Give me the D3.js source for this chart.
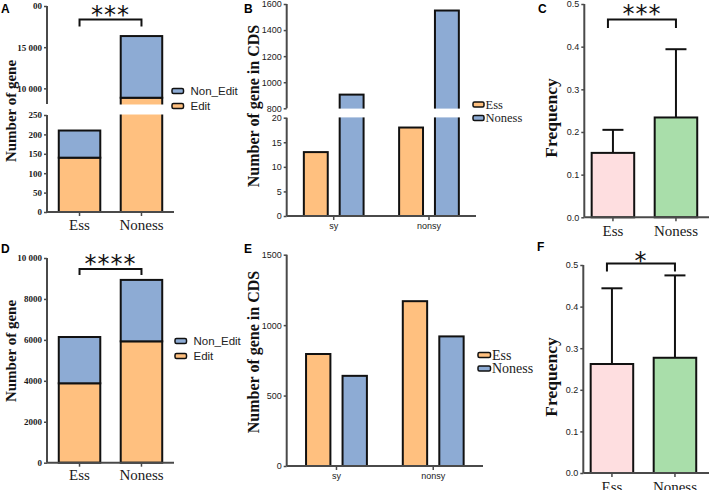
<!DOCTYPE html>
<html><head><meta charset="utf-8">
<script src="https://cdn.jsdelivr.net/npm/d3@7"></script>
<style>body{margin:0;background:#fff} svg{display:block}</style>
</head><body><svg id="c" width="709" height="490"></svg>
<script>
// ---------------- data ----------------
const groups = ["Ess", "Noness"];
const stackKeys = ["Edit", "Non_Edit"];
const editA = [140, 8860];
const nonEditA = [70, 7490];
const editD = [3880, 5930];
const nonEditD = [2260, 3000];
const mutTypes = ["sy", "nonsy"];
const essB = [13, 18];
const nonessB = [905, 1550];
const essE = [795, 1170];
const nonessE = [640, 920];
const freqC = [0.151, 0.234];
const errC = [0.054, 0.160];
const freqF = [0.262, 0.277];
const errF = [0.182, 0.198];
const ticksAlow = [0, 50, 100, 150, 200, 250];
const ticksAhigh = [10000, 15000, 20000];
const tickLabelsAhigh = ["10 000", "15 000", "00"];
const ticksD = [0, 2000, 4000, 6000, 8000, 10000];
const tickLabelsD = ["0", "2000", "4000", "6000", "8000", "10 000"];
const ticksBlow = [0, 5, 10, 15, 20];
const ticksBhigh = [800, 1000, 1200, 1400, 1600];
const ticksE = [0, 500, 1000, 1500];
const ticksFreq = [0, 0.1, 0.2, 0.3, 0.4, 0.5];
const sigA = "***", sigC = "***", sigD = "****", sigF = "*";

// ---------------- style ----------------
const C_OR = "#FFC07F", C_BL = "#8DABD4", C_PK = "#FEDEE0", C_GR = "#A9DEAA";
const AX = "#4a4a4a";
const serif = "'Liberation Serif','Times New Roman',serif";
const sans = "'Liberation Sans',Arial,sans-serif";
const svg = d3.select("#c");

function axisLine(x1, y1, x2, y2) {
  svg.append("line").attr("x1", x1).attr("y1", y1).attr("x2", x2).attr("y2", y2)
    .attr("stroke", AX).attr("stroke-width", 2);
}
function styleAxis(g, font, size, weight) {
  g.select(".domain").remove();
  g.selectAll(".tick line").attr("stroke", AX).attr("stroke-width", 1.5);
  g.selectAll(".tick text").attr("fill", "#1a1a1a").style("font-family", font)
    .style("font-size", size + "px").style("font-weight", weight);
}
function yAxis(x, scale, vals, labels, font, size, weight) {
  const ax = d3.axisLeft(scale).tickValues(vals).tickSize(3).tickPadding(2);
  ax.tickFormat(labels ? (d, i) => labels[i] : d => String(d));
  const g = svg.append("g").attr("transform", `translate(${x},0)`).call(ax);
  styleAxis(g, font, size, weight);
}
function xAxis(y, scale, font, size, weight, pad) {
  const g = svg.append("g").attr("transform", `translate(0,${y})`)
    .call(d3.axisBottom(scale).tickSize(4).tickPadding(pad));
  styleAxis(g, font, size, weight);
}
function title(x, y, txt, size) {
  svg.append("text").attr("transform", `translate(${x},${y}) rotate(-90)`)
    .attr("text-anchor", "middle").attr("dominant-baseline", "central")
    .style("font-family", serif).style("font-weight", "bold").style("font-size", size + "px")
    .attr("fill", "#111").text(txt);
}
function panelLabel(x, y, t) {
  svg.append("text").attr("x", x).attr("y", y).text(t)
    .style("font-family", sans).style("font-weight", "bold").style("font-size", "12px").attr("fill", "#000");
}
function bracket(x1, x2, y, drop, stars, starY) {
  svg.append("path").attr("d", `M${x1},${y + drop}V${y}H${x2}V${y + drop}`)
    .attr("fill", "none").attr("stroke", "#111").attr("stroke-width", 2);
  svg.append("text").attr("x", (x1 + x2) / 2).attr("y", starY).attr("text-anchor", "middle")
    .style("font-family", "'DejaVu Sans',sans-serif").style("font-size", "24px")
    .style("letter-spacing", "1px").attr("fill", "#111").text(stars);
}
function legend(x, y0, dy, items, font, size, bw, bh, tx) {
  items.forEach((it, i) => {
    const y = y0 + i * dy;
    svg.append("rect").attr("x", x).attr("y", y - bh / 2).attr("width", bw).attr("height", bh)
      .attr("rx", 1.5).attr("fill", it.c).attr("stroke", "#111").attr("stroke-width", 1.5);
    svg.append("text").attr("x", x + bw + tx).attr("y", y).attr("dominant-baseline", "central")
      .style("font-family", font).style("font-size", size + "px").attr("fill", "#222").text(it.t);
  });
}
function barRect(x, y0, y1, w, fill) {
  svg.append("rect").attr("x", x).attr("y", Math.min(y0, y1)).attr("width", w)
    .attr("height", Math.abs(y0 - y1)).attr("fill", fill).attr("stroke", "#111").attr("stroke-width", 2);
}

// ---------------- stacked panels (A, D) ----------------
function stackedPanel(cfg) {
  const rows = groups.map((g, i) => ({ g, Edit: cfg.edit[i], Non_Edit: cfg.nonEdit[i] }));
  const series = d3.stack().keys(stackKeys)(rows);
  const x = d3.scaleBand().domain(groups).range([cfg.x0, cfg.x1]).paddingInner(0.33).paddingOuter(0.19);
  const colors = { Edit: C_OR, Non_Edit: C_BL };
  series.forEach(s => s.forEach(d => barRect(x(d.data.g), cfg.y(d[0]), cfg.y(d[1]), x.bandwidth(), colors[s.key])));
  if (cfg.gap) svg.append("rect").attr("x", cfg.x0 + 2).attr("y", cfg.gap[0]).attr("width", cfg.x1 - cfg.x0)
    .attr("height", cfg.gap[1] - cfg.gap[0]).attr("fill", "#fff");
  cfg.axes();
  axisLine(cfg.x0, cfg.y(0), cfg.x1, cfg.y(0));
  xAxis(cfg.y(0), x, serif, 15, "normal", 3);
  const c0 = x("Ess") + x.bandwidth() / 2, c1 = x("Noness") + x.bandwidth() / 2;
  bracket(c0, c1, cfg.br, cfg.drop, cfg.sig, cfg.starY);
  legend(cfg.lx, cfg.ly, 15, [{ t: "Non_Edit", c: C_BL }, { t: "Edit", c: C_OR }], sans, 11.5, 11.5, 5, 7);
}

// A
const yA = d3.scaleLinear().domain([0, 250, 8100, 20000]).range([212, 115, 104, 6]);
stackedPanel({
  edit: editA, nonEdit: nonEditA, x0: 47, x1: 174, y: yA, gap: [104.5, 114.5],
  axes: () => {
    axisLine(47, 212, 47, 115); axisLine(47, 104, 47, 6);
    yAxis(47, yA, ticksAlow, null, serif, 9, "bold");
    yAxis(47, yA, ticksAhigh, tickLabelsAhigh, serif, 9, "bold");
  },
  br: 19.5, drop: 7, sig: sigA, starY: 22.5, lx: 172, ly: 91
});
title(11, 111, "Number of gene", 15);
panelLabel(1, 13, "A");

// D
const yD = d3.scaleLinear().domain([0, 10000]).range([462.7, 258]);
stackedPanel({
  edit: editD, nonEdit: nonEditD, x0: 47, x1: 174, y: yD, gap: null,
  axes: () => {
    axisLine(47, 462.7, 47, 258);
    yAxis(47, yD, ticksD, tickLabelsD, serif, 9, "bold");
  },
  br: 269, drop: 6, sig: sigD, starY: 271.5, lx: 175, ly: 341
});
title(11, 351, "Number of gene", 15);
panelLabel(1, 253, "D");

// ---------------- grouped panels (B, E) ----------------
function groupedPanel(cfg) {
  const x = d3.scaleBand().domain(mutTypes).range([cfg.x0, cfg.x1]).paddingInner(cfg.pi).paddingOuter(cfg.po);
  const xi = d3.scaleBand().domain(groups).range([0, x.bandwidth()]).paddingInner(0.333);
  const vals = { Ess: cfg.ess, Noness: cfg.noness };
  const colors = { Ess: C_OR, Noness: C_BL };
  mutTypes.forEach((m, i) => groups.forEach(g => {
    barRect(x(m) + xi(g), cfg.y(0), cfg.y(vals[g][i]), xi.bandwidth(), colors[g]);
  }));
  if (cfg.gap) svg.append("rect").attr("x", cfg.x0 + 2).attr("y", cfg.gap[0]).attr("width", cfg.x1 - cfg.x0)
    .attr("height", cfg.gap[1] - cfg.gap[0]).attr("fill", "#fff");
  cfg.axes();
  axisLine(cfg.x0, cfg.y(0), cfg.xEnd, cfg.y(0));
  xAxis(cfg.y(0), x, sans, 9, "normal", 3);
}

// B
const yB = d3.scaleLinear().domain([0, 20, 800, 1600]).range([216, 117.7, 108.3, 4]);
groupedPanel({
  x0: 286.7, x1: 476, xEnd: 476, pi: 0.373, po: 0.18, y: yB, ess: essB, noness: nonessB, gap: [108.6, 117.4],
  axes: () => {
    axisLine(286.7, 216, 286.7, 117.7); axisLine(286.7, 108.3, 286.7, 4);
    yAxis(286.7, yB, ticksBlow, null, sans, 9, "normal");
    yAxis(286.7, yB, ticksBhigh, null, sans, 9, "normal");
  }
});
title(253, 106, "Number of  gene in CDS", 16);
panelLabel(244, 13, "B");
legend(473, 104.5, 13.5, [{ t: "Ess", c: C_OR }, { t: "Noness", c: C_BL }], serif, 12.5, 11, 5, 1.5);

// E
const yE = d3.scaleLinear().domain([0, 1500]).range([466, 254.7]);
groupedPanel({
  x0: 286.7, x1: 483, xEnd: 483, pi: 0.371, po: 0.2, y: yE, ess: essE, noness: nonessE, gap: null,
  axes: () => {
    axisLine(286.7, 466, 286.7, 254.7);
    yAxis(286.7, yE, ticksE, null, sans, 9, "normal");
  }
});
title(253, 352, "Number of  gene in CDS", 16);
panelLabel(244, 253, "E");
legend(478, 355, 13.5, [{ t: "Ess", c: C_OR }, { t: "Noness", c: C_BL }], serif, 14, 12.5, 5, 1.5);

// ---------------- frequency panels (C, F) ----------------
function freqPanel(cfg) {
  const x = d3.scaleBand().domain(groups).range([cfg.x0, cfg.x0 + 120.3]).paddingInner(0.325).paddingOuter(0.117);
  const colors = [C_PK, C_GR];
  groups.forEach((g, i) => {
    const cx = x(g) + x.bandwidth() / 2;
    const top = cfg.y(cfg.vals[i] + cfg.errs[i]);
    svg.append("line").attr("x1", cx).attr("x2", cx).attr("y1", cfg.y(cfg.vals[i])).attr("y2", top)
      .attr("stroke", "#111").attr("stroke-width", 2);
    svg.append("line").attr("x1", cx - 10.5).attr("x2", cx + 10.5).attr("y1", top).attr("y2", top)
      .attr("stroke", "#111").attr("stroke-width", 2);
    barRect(x(g), cfg.y(0), cfg.y(cfg.vals[i]), x.bandwidth(), colors[i]);
  });
  axisLine(cfg.x0, cfg.y(0), cfg.x0, cfg.y(0.5));
  yAxis(cfg.x0, cfg.y, ticksFreq, ticksFreq.map(d3.format(".1f")), sans, 9, "normal");
  axisLine(cfg.x0, cfg.y(0), 709, cfg.y(0));
  xAxis(cfg.y(0), x, serif, 15, "normal", 4);
  const c0 = x("Ess") + x.bandwidth() / 2, c1 = x("Noness") + x.bandwidth() / 2;
  bracket(c0 - 5, c1, cfg.br, cfg.drop, cfg.sig, cfg.starY);
}

const yC = d3.scaleLinear().domain([0, 0.5]).range([217.3, 4]);
freqPanel({ x0: 584.3, y: yC, vals: freqC, errs: errC, br: 19.5, drop: 8.5, sig: sigC, starY: 22 });
title(551, 118, "Frequency", 17.5);
panelLabel(538, 13, "C");

const yF = d3.scaleLinear().domain([0, 0.5]).range([473, 265]);
freqPanel({ x0: 583.3, y: yF, vals: freqF, errs: errF, br: 263.5, drop: 8, sig: sigF, starY: 269 });
title(551, 377, "Frequency", 17.5);
panelLabel(537, 251, "F");
</script></body></html>
